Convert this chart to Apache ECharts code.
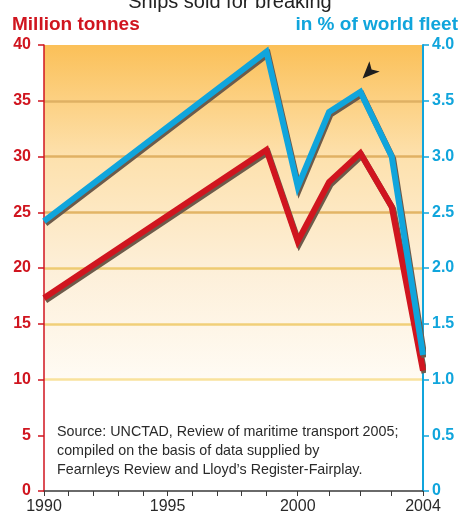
<!DOCTYPE html>
<html>
<head>
<meta charset="utf-8">
<script src="https://cdn.jsdelivr.net/npm/echarts@6/dist/echarts.min.js"></script>
<style>
  html, body { margin: 0; padding: 0; background: #ffffff; }
  #chart { width: 460px; height: 517px; }
</style>
</head>
<body>
<div id="chart"></div>
<script>
// Ships sold for breaking, 1990-2004
const YEARS = [1990, 1999, 2000, 2001, 2002, 2003, 2004];
const MILLION_TONNES = [17.3, 30.6, 22.4, 27.7, 30.3, 25.5, 10.8];
const PCT_WORLD_FLEET = [2.42, 3.94, 2.73, 3.40, 3.58, 3.00, 1.22];

const TICK_YEARS = [1990, 1991, 1992, 1993, 1994, 1995, 1996, 1997, 1998, 1999, 2000, 2001, 2002, 2003, 2004];
const LABEL_YEARS = [1990, 1995, 2000, 2004];

// The time axis is drawn wider per year after 1999 than before it.
const BREAK_YEAR = 1999;
const LATE_STRETCH = 1.267;
function axisPos(year) {
  return year <= BREAK_YEAR ? year : BREAK_YEAR + (year - BREAK_YEAR) * LATE_STRETCH;
}
function posYear(pos) {
  return pos <= BREAK_YEAR ? pos : BREAK_YEAR + (pos - BREAK_YEAR) / LATE_STRETCH;
}

const RED = '#d0151f';
const BLUE = '#10a5dc';
const SHADOW = '#6d5b4b';
const FONT = '"Liberation Sans", Arial, Helvetica, sans-serif';

const chart = echarts.init(document.getElementById('chart'), null, { renderer: 'canvas' });

const tonnesData = YEARS.map((y, i) => [axisPos(y), MILLION_TONNES[i]]);
const shareData = YEARS.map((y, i) => [axisPos(y), PCT_WORLD_FLEET[i]]);

chart.setOption({
  animation: false,
  backgroundColor: '#ffffff',
  title: [
    {
      text: 'Ships sold for breaking',
      left: 'center',
      top: -13,
      textStyle: { fontFamily: FONT, fontSize: 20, fontWeight: 'normal', color: '#222222' }
    },
    {
      text: 'Million tonnes',
      left: 12,
      top: 15,
      padding: 0,
      textStyle: { fontFamily: FONT, fontSize: 19, fontWeight: 'bold', color: RED }
    },
    {
      text: 'in % of world fleet',
      right: 2,
      top: 15,
      padding: 0,
      textStyle: { fontFamily: FONT, fontSize: 19, fontWeight: 'bold', color: BLUE }
    }
  ],
  graphic: [
    {
      type: 'text',
      left: 57,
      top: 423,
      style: {
        text: 'Source: UNCTAD, Review of maritime transport 2005;\ncompiled on the basis of data supplied by\nFearnleys Review and Lloyd\u2019s Register-Fairplay.',
        font: '14.3px ' + FONT,
        fill: '#2a2a2a',
        lineHeight: 19
      }
    }
  ],
  grid: {
    left: 44,
    right: 37,
    top: 45,
    bottom: 26,
    show: true,
    borderWidth: 0,
    backgroundColor: new echarts.graphic.LinearGradient(0, 0, 0, 1, [
      { offset: 0, color: '#fbc058' },
      { offset: 0.25, color: '#fde1ad' },
      { offset: 0.5, color: '#fdefd8' },
      { offset: 0.75, color: '#fffbf4' },
      { offset: 0.751, color: '#ffffff' },
      { offset: 1, color: '#ffffff' }
    ])
  },
  xAxis: {
    type: 'value',
    min: axisPos(1990),
    max: axisPos(2004),
    axisLine: { show: true, onZero: false, lineStyle: { color: '#3a3a3a', width: 1.5 } },
    axisTick: {
      show: true,
      length: 5,
      customValues: TICK_YEARS.map(axisPos),
      lineStyle: { color: '#3a3a3a', width: 1 }
    },
    axisLabel: {
      show: true,
      margin: 8,
      customValues: LABEL_YEARS.map(axisPos),
      formatter: v => String(Math.round(posYear(v))),
      fontFamily: FONT,
      fontSize: 16,
      color: '#2a2a2a'
    },
    splitLine: { show: false }
  },
  yAxis: [
    {
      type: 'value',
      position: 'left',
      min: 0,
      max: 40,
      interval: 5,
      axisLine: { show: true, lineStyle: { color: RED, width: 1.5 } },
      axisTick: { show: true, length: 6, lineStyle: { color: RED, width: 1.5 } },
      axisLabel: {
        margin: 13,
        fontFamily: FONT,
        fontSize: 16,
        fontWeight: 'bold',
        color: RED
      },
      splitLine: {
        show: true,
        lineStyle: {
          width: 2.5,
          color: ['rgba(0,0,0,0)', 'rgba(0,0,0,0)', '#f9e29c', '#f1cf78', '#eecb72', '#e2b566', '#e0b163', '#dfb063', 'rgba(0,0,0,0)']
        }
      }
    },
    {
      type: 'value',
      position: 'right',
      min: 0,
      max: 4,
      interval: 0.5,
      axisLine: { show: true, lineStyle: { color: BLUE, width: 2 } },
      axisTick: { show: true, length: 6, lineStyle: { color: BLUE, width: 1.5 } },
      axisLabel: {
        margin: 9,
        fontFamily: FONT,
        fontSize: 16,
        fontWeight: 'bold',
        color: BLUE,
        formatter: v => (v === 0 ? '0' : v.toFixed(1))
      },
      splitLine: { show: false }
    }
  ],
  series: [
    {
      name: 'Million tonnes',
      type: 'line',
      yAxisIndex: 0,
      data: tonnesData,
      showSymbol: false,
      lineStyle: {
        color: RED,
        width: 6,
        join: 'miter',
        shadowColor: SHADOW,
        shadowBlur: 0,
        shadowOffsetX: 1.5,
        shadowOffsetY: 2.5
      },
      z: 3
    },
    {
      name: 'in % of world fleet',
      type: 'line',
      yAxisIndex: 1,
      data: shareData,
      showSymbol: false,
      lineStyle: {
        color: BLUE,
        width: 6,
        join: 'miter',
        shadowColor: SHADOW,
        shadowBlur: 0,
        shadowOffsetX: 1.5,
        shadowOffsetY: 2.5
      },
      markPoint: {
        silent: true,
        symbol: 'arrow',
        symbolSize: [11, 17],
        symbolRotate: 135,
        itemStyle: { color: '#1e1e1e' },
        label: { show: false },
        data: [{ coord: [axisPos(2002.07), 3.70] }]
      },
      z: 4
    }
  ]
});
</script>
</body>
</html>
